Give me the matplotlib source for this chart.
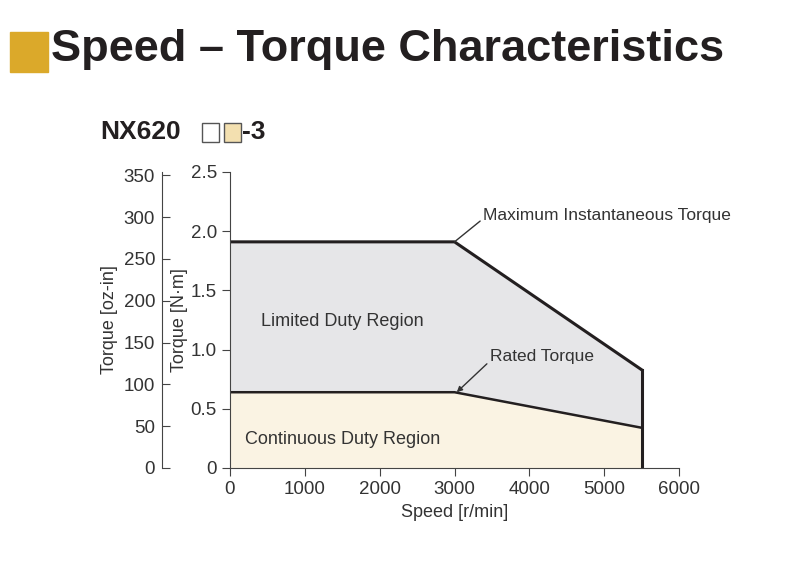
import matplotlib
matplotlib.use("Agg")
import matplotlib.pyplot as plt
from matplotlib.patches import Rectangle
from matplotlib import font_manager

names = {f.name for f in font_manager.fontManager.ttflist}
narrow = 'Liberation Sans Narrow' if 'Liberation Sans Narrow' in names else 'Liberation Sans'
plt.rcParams['font.family'] = [narrow, 'DejaVu Sans']

speed = [0, 3000, 5500]
max_torque = [1.91, 1.91, 0.83]
rated_torque = [0.64, 0.64, 0.34]
xticks = [0, 1000, 2000, 3000, 4000, 5000, 6000]
yticks = [0, 0.5, 1.0, 1.5, 2.0, 2.5]
ozticks = [0, 50, 100, 150, 200, 250, 300, 350]

fig = plt.figure(figsize=(8, 5.88), dpi=100)
fig.patches.append(Rectangle((10/800, 1-72/588), 38/800, 40/588, transform=fig.transFigure,
                             color='#dba92a', figure=fig))
fig.text(51/800, 1-50/588, "Speed – Torque Characteristics", fontsize=32.5, fontweight='bold',
         va='center', ha='left', color='#231f20', family=['Liberation Sans', 'DejaVu Sans'])
fig.text(100/800, 1-132/588, "NX620", fontsize=19, fontweight='bold', va='center',
         color='#231f20', family=['Liberation Sans', 'DejaVu Sans'])
fig.patches.append(Rectangle((202/800, 1-142/588), 17/800, 19/588, transform=fig.transFigure,
                             facecolor='white', edgecolor='#555555', lw=1, figure=fig))
fig.patches.append(Rectangle((224/800, 1-142/588), 17/800, 19/588, transform=fig.transFigure,
                             facecolor='#f3e0b0', edgecolor='#555555', lw=1, figure=fig))
fig.text(242/800, 1-132/588, "-3", fontsize=19, fontweight='bold', va='center',
         color='#231f20', family=['Liberation Sans', 'DejaVu Sans'])

ax = fig.add_axes([230/800, 120/588, 449/800, 296/588])
ax.fill_between(speed, rated_torque, max_torque, color='#e6e6e8', lw=0)
ax.fill_between(speed, 0, rated_torque, color='#faf3e3', lw=0)
ax.plot(speed, max_torque, color='#231f20', lw=2.2)
ax.plot(speed, rated_torque, color='#231f20', lw=1.8)
ax.plot([speed[-1], speed[-1]], [0, max_torque[-1]], color='#231f20', lw=2.2)
ax.set_xlim(0, 6000)
ax.set_ylim(0, 2.5)
ax.set_xticks(xticks)
ax.set_yticks(yticks)
ax.set_yticklabels(['0', '0.5', '1.0', '1.5', '2.0', '2.5'])
for s in ['top', 'right']:
    ax.spines[s].set_visible(False)
for s in ['left', 'bottom']:
    ax.spines[s].set_color('#444444')
ax.tick_params(labelsize=13.5, colors='#444444', labelcolor='#333333', length=6)
ax.set_xlabel("Speed [r/min]", fontsize=13, color='#333333')
ax.set_ylabel("Torque [N·m]", fontsize=13, color='#333333', labelpad=2)
ax.text(1500, 1.2, "Limited Duty Region", fontsize=13, ha='center', color='#333333')
ax.text(1500, 0.2, "Continuous Duty Region", fontsize=13, ha='center', color='#333333')
ax.annotate("Maximum Instantaneous Torque", xy=(3000, 1.91), xytext=(3380, 2.13),
            fontsize=12.5, color='#333333', va='center',
            arrowprops=dict(arrowstyle='-', color='#333333', lw=1, shrinkA=0, shrinkB=0,
                            relpos=(0, 0.3)))
ax.annotate("Rated Torque", xy=(3030, 0.64), xytext=(3470, 0.94),
            fontsize=12.5, color='#333333', va='center',
            arrowprops=dict(arrowstyle='-|>', color='#333333', lw=1, shrinkA=0, shrinkB=0,
                            mutation_scale=8, relpos=(0, 0.2)))

ax2 = fig.add_axes([162/800, 120/588, 0.001, 296/588])
ax2.set_ylim(0, 2.5 * 141.6)
ax2.set_yticks(ozticks)
ax2.set_xticks([])
for s in ['top', 'right', 'bottom']:
    ax2.spines[s].set_visible(False)
ax2.spines['left'].set_color('#444444')
ax2.patch.set_visible(False)
ax2.tick_params(axis='y', direction='in', length=6, labelsize=13.5, colors='#444444',
                labelcolor='#333333', pad=5)
ax2.set_ylabel("Torque [oz-in]", fontsize=13, color='#333333', labelpad=4)

fig.savefig("out.png", dpi=100)
